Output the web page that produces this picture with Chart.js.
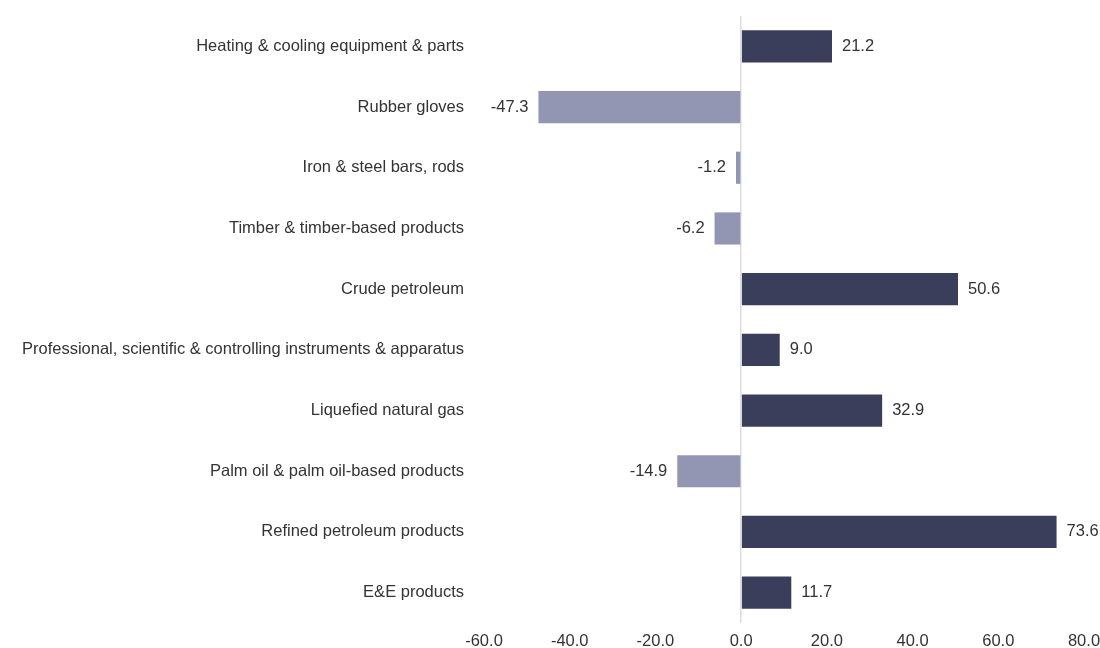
<!DOCTYPE html>
<html>
<head>
<meta charset="utf-8">
<script src="https://cdn.jsdelivr.net/npm/chart.js@4"></script>
<style>
    html, body { margin: 0; padding: 0; background: #fff; }
    #wrap { width: 1100px; height: 648px; }
</style>
</head>
<body>
<div id="wrap"><canvas id="tradeChart"></canvas></div>
<script>
const categories = [
    'Heating & cooling equipment & parts',
    'Rubber gloves',
    'Iron & steel bars, rods',
    'Timber & timber-based products',
    'Crude petroleum',
    'Professional, scientific & controlling instruments & apparatus',
    'Liquefied natural gas',
    'Palm oil & palm oil-based products',
    'Refined petroleum products',
    'E&E products'
];
const changeValues = [21.2, -47.3, -1.2, -6.2, 50.6, 9.0, 32.9, -14.9, 73.6, 11.7];
const xTicks = [-60, -40, -20, 0, 20, 40, 60, 80];

const positiveColor = '#3b3e5a';
const negativeColor = '#9296b3';
const textColor = '#333333';
const fontFamily = '"Liberation Sans", Arial, sans-serif';
const fontSize = 16.5;

// value labels next to each bar end
const valueLabels = {
    id: 'valueLabels',
    afterDatasetsDraw(chart) {
        const ctx = chart.ctx;
        const meta = chart.getDatasetMeta(0);
        ctx.save();
        ctx.font = fontSize + 'px ' + fontFamily;
        ctx.fillStyle = textColor;
        ctx.textBaseline = 'middle';
        meta.data.forEach(function(bar, i) {
            const v = changeValues[i];
            if (v >= 0) {
                ctx.textAlign = 'left';
                ctx.fillText(v.toFixed(1), bar.x + 10, bar.y);
            } else {
                ctx.textAlign = 'right';
                ctx.fillText(v.toFixed(1), bar.x - 10, bar.y);
            }
        });
        ctx.restore();
    }
};

new Chart(document.getElementById('tradeChart'), {
    type: 'bar',
    data: {
        labels: categories,
        datasets: [{
            data: changeValues,
            backgroundColor: changeValues.map(v => v >= 0 ? positiveColor : negativeColor),
            categoryPercentage: 1.0,
            barPercentage: 0.53
        }]
    },
    options: {
        indexAxis: 'y',
        responsive: true,
        maintainAspectRatio: false,
        animation: false,
        layout: { padding: { top: 16, right: 0, bottom: 0, left: 0 } },
        plugins: {
            legend: { display: false },
            tooltip: { enabled: false }
        },
        scales: {
            x: {
                min: -60,
                max: 80,
                afterBuildTicks: function(scale) {
                    scale.ticks = xTicks.map(v => ({ value: v }));
                },
                afterFit: function(scale) {
                    scale.height = 25;
                    scale.paddingLeft = 0;
                    scale.paddingRight = 16;
                },
                ticks: {
                    color: textColor,
                    font: { family: fontFamily, size: fontSize },
                    padding: 9,
                    callback: v => Number(v).toFixed(1)
                },
                grid: {
                    drawTicks: false,
                    color: ctx => (ctx.tick && ctx.tick.value === 0) ? '#dcdcdc' : 'rgba(0,0,0,0)',
                    lineWidth: 1.5
                },
                border: { display: false }
            },
            y: {
                afterFit: function(scale) {
                    scale.width = 484;
                    scale.paddingTop = 0;
                    scale.paddingBottom = 0;
                },
                ticks: {
                    color: textColor,
                    font: { family: fontFamily, size: fontSize },
                    padding: 20
                },
                grid: { display: false, drawTicks: false },
                border: { display: false }
            }
        }
    },
    plugins: [valueLabels]
});
</script>
</body>
</html>
